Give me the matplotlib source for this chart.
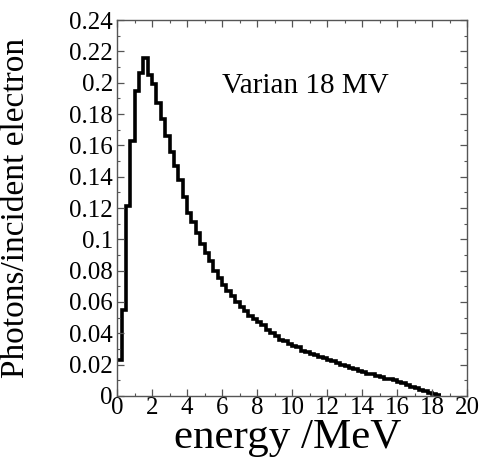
import numpy as np
import matplotlib
matplotlib.use("Agg")
import matplotlib.pyplot as plt
from matplotlib.ticker import MultipleLocator, FuncFormatter

plt.rcParams["font.family"] = ["Liberation Serif", "DejaVu Serif"]

# Photon fluence per incident electron, 0.25 MeV energy bins starting at 0 MeV
bin_width = 0.25
photons = [
    0.023, 0.055, 0.121, 0.163, 0.195, 0.206, 0.216, 0.205,   # 0 - 2 MeV
    0.199, 0.187, 0.177, 0.166,                               # 2 - 3
    0.156, 0.147, 0.138, 0.127,                               # 3 - 4
    0.117, 0.111, 0.104, 0.097,                               # 4 - 5
    0.091, 0.086, 0.080, 0.075,                               # 5 - 6
    0.071, 0.067, 0.064, 0.060,                               # 6 - 7
    0.057, 0.054, 0.051, 0.049,                               # 7 - 8
    0.047, 0.045, 0.042, 0.040,                               # 8 - 9
    0.038, 0.036, 0.035, 0.033,                               # 9 - 10
    0.032, 0.031, 0.029, 0.028,                               # 10 - 11
    0.027, 0.026, 0.025, 0.024,                               # 11 - 12
    0.023, 0.022, 0.021, 0.020,                               # 12 - 13
    0.019, 0.018, 0.017, 0.016,                               # 13 - 14
    0.015, 0.014, 0.014, 0.013,                               # 14 - 15
    0.012, 0.011, 0.011, 0.010,                               # 15 - 16
    0.009, 0.008, 0.007, 0.006,                               # 16 - 17
    0.005, 0.004, 0.003, 0.002,                               # 17 - 18
    0.001, 0.0005,                                            # 18 - 18.5
]
edges = np.arange(len(photons) + 1) * bin_width

x_ticks = list(range(0, 21, 2))
y_ticks = [0, 0.02, 0.04, 0.06, 0.08, 0.1, 0.12, 0.14, 0.16, 0.18, 0.2, 0.22, 0.24]

fig = plt.figure(figsize=(4.82, 4.68), dpi=100)
ax = fig.add_axes([0.243, 0.154, 0.726, 0.803])

ax.stairs(photons, edges, color="black", linewidth=2.6, baseline=None)

ax.set_xlim(0, 20)
ax.set_ylim(0, 0.24)
ax.set_xticks(x_ticks)
ax.set_yticks(y_ticks)
ax.xaxis.set_minor_locator(MultipleLocator(1))
ax.yaxis.set_minor_locator(MultipleLocator(0.01))
ax.yaxis.set_major_formatter(FuncFormatter(lambda v, p: "%g" % round(v, 2)))
ax.xaxis.set_major_formatter(FuncFormatter(lambda v, p: "%g" % v))

ax.tick_params(which="both", direction="in", top=True, right=True,
               color="#555555")
ax.tick_params(which="major", length=5, width=0.9, labelsize=18, pad=3)
ax.tick_params(axis="x", which="major", pad=1)
ax.tick_params(which="minor", length=2.5, width=0.8)
for s in ax.spines.values():
    s.set_color("#555555")
    s.set_linewidth(1.0)

ax.set_xlabel("energy /MeV", fontsize=31)
ax.xaxis.set_label_coords(0.486, -0.06)
ax.set_ylabel("Photons/incident electron", fontsize=24)
ax.yaxis.set_label_coords(-0.245, 0.5)

ax.text(6.0, 0.198, "Varian 18 MV", fontsize=21, ha="left", va="center")

fig.savefig("out.png", dpi=100)
